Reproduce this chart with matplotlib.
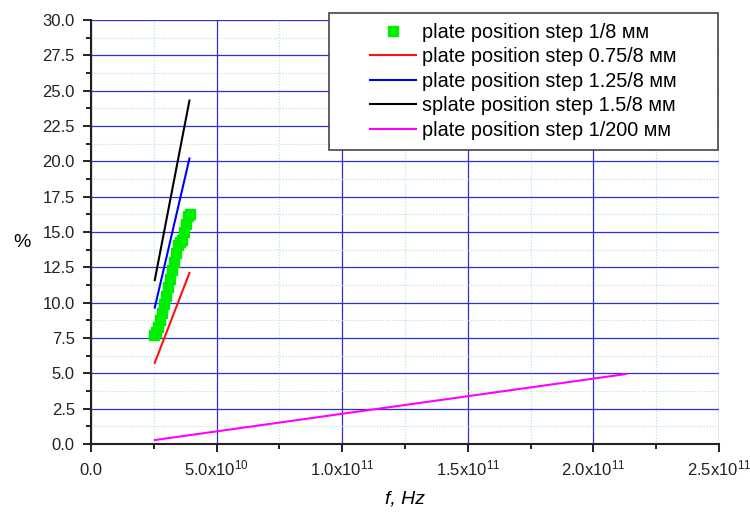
import numpy as np
import matplotlib.pyplot as plt
from matplotlib.ticker import MultipleLocator, FuncFormatter

plt.rcParams['font.family'] = ['Liberation Sans', 'DejaVu Sans']
plt.rcParams['mathtext.default'] = 'regular'

# green squares: plate position step 1/8 mm
f_18 = [2.50e10, 2.58e10, 2.66e10, 2.74e10, 2.82e10, 2.90e10, 2.98e10, 3.06e10,
        3.14e10, 3.22e10, 3.30e10, 3.38e10, 3.46e10, 3.54e10, 3.62e10, 3.70e10,
        3.78e10, 3.86e10, 3.93e10]
p_18 = [7.7, 7.9, 8.3, 8.8, 9.3, 9.9, 10.5, 11.1, 11.7, 12.3, 12.9, 13.5,
        14.1, 14.3, 14.4, 15.0, 15.6, 16.1, 16.3]

# lines
f_075 = [2.54e10, 3.92e10]
p_075 = [5.75, 12.1]
f_125 = [2.54e10, 3.92e10]
p_125 = [9.65, 20.2]
f_15 = [2.54e10, 3.92e10]
p_15 = [11.6, 24.3]
f_200 = [2.54e10, 2.13e11]
p_200 = [0.28, 4.95]

fig = plt.figure(figsize=(7.5, 5.14), dpi=100)
ax = fig.add_axes([0.1213, 0.1362, 0.8373, 0.8249])

ax.plot(f_18, p_18, 's', color='#00ee00', markersize=7, label='plate position step 1/8 мм', zorder=5)
ax.plot(f_075, p_075, color='#ff1010', lw=1.5, label='plate position step 0.75/8 мм')
ax.plot(f_125, p_125, color='#0000ff', lw=1.5, label='plate position step 1.25/8 мм')
ax.plot(f_15, p_15, color='black', lw=1.5, label='splate position step 1.5/8 мм')
ax.plot(f_200, p_200, color='#ff00ff', lw=1.5, label='plate position step 1/200 мм')

ax.set_xlim(0, 2.5e11)
ax.set_ylim(0, 30)
ax.xaxis.set_major_locator(MultipleLocator(5e10))
ax.xaxis.set_minor_locator(MultipleLocator(2.5e10))
ax.yaxis.set_major_locator(MultipleLocator(2.5))
ax.yaxis.set_minor_locator(MultipleLocator(1.25))


def xfmt(v, pos):
    if v <= 0:
        return '0.0'
    e = int(np.floor(np.log10(v)))
    return r'$%.1fx10^{%d}$' % (v / 10 ** e, e)


ax.xaxis.set_major_formatter(FuncFormatter(xfmt))
ax.yaxis.set_major_formatter(FuncFormatter(lambda v, p: '%.1f' % v))

ax.grid(which='major', color='#3030d0', lw=0.9)
ax.grid(which='minor', color='#b0e8b0', lw=0.8, ls=':')
ax.set_axisbelow(True)

for s in ['top', 'right']:
    ax.spines[s].set_visible(False)
for s in ['left', 'bottom']:
    ax.spines[s].set_linewidth(1.5)
    ax.spines[s].set_color('#222222')

ax.tick_params(which='major', direction='out', length=5.8, width=1.4, labelsize=12, colors='#222222')
ax.tick_params(which='minor', direction='out', length=3.6, width=1.4, colors='#222222')
ax.tick_params(axis='x', pad=16.5)
ax.tick_params(axis='y', pad=5.8)
for lab in ax.get_xticklabels():
    lab.set_verticalalignment('baseline')

ax.set_xlabel('f, Hz', fontsize=14, style='italic', labelpad=9)
ax.set_ylabel('%', fontsize=14, rotation=0, ha='center', va='center')
ax.yaxis.set_label_coords(-0.11, 0.476)

fs = 14.3
hl = 3.87
leg = ax.legend(loc='upper left', bbox_to_anchor=(0.379, 0, 0.619, 1.017), mode='expand',
                borderaxespad=0, fontsize=fs, frameon=True, fancybox=False,
                edgecolor='#444444', framealpha=1, handlelength=hl,
                borderpad=0.5, labelspacing=0.28, handletextpad=0.3)
leg.get_frame().set_linewidth(1.2)

# put the short handle at the right end of the handle box
box_w = hl * fs
for h in leg.legend_handles:
    x = np.asarray(h.get_xdata(), dtype=float)
    h.set_xdata(22.4 + x * (box_w - 22.4) / box_w)

plt.savefig('out.png', dpi=100)
